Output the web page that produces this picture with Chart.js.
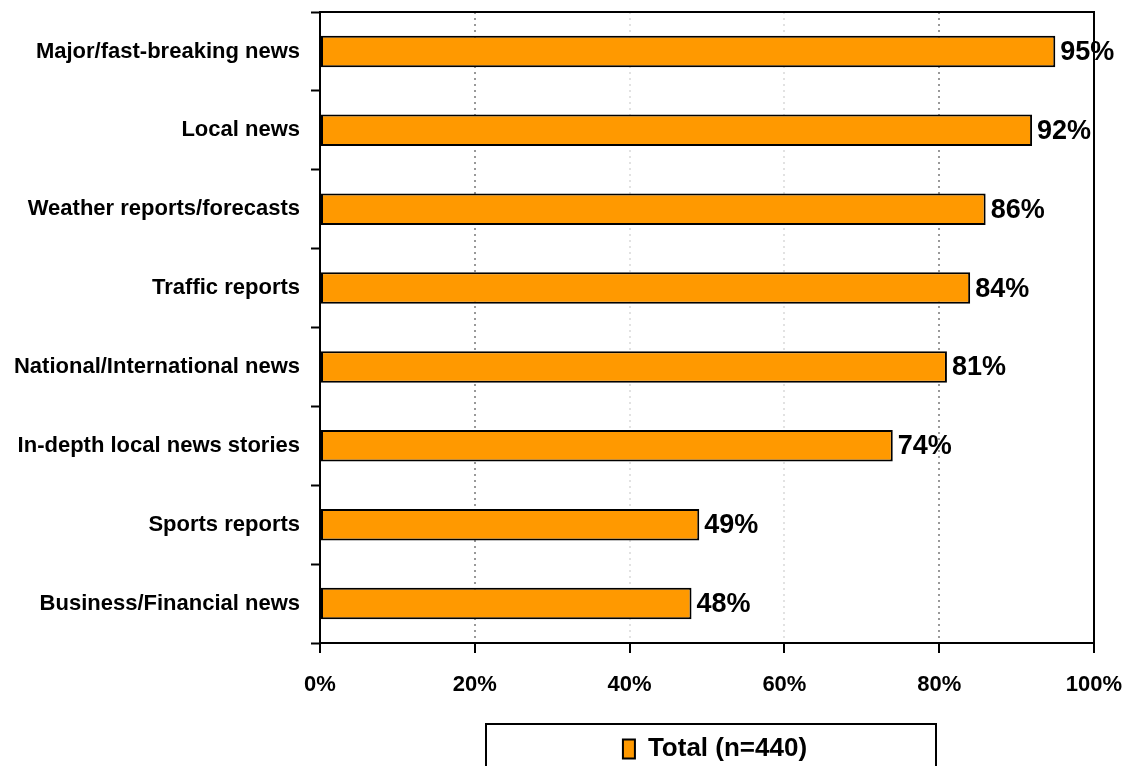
<!DOCTYPE html>
<html>
<head>
<meta charset="utf-8">
<script src="https://cdn.jsdelivr.net/npm/chart.js@4"></script>
<style>
  html, body { margin: 0; padding: 0; background: #fff; }
  #wrap { width: 1124px; height: 766px; }
</style>
</head>
<body>
<div id="wrap"><canvas id="myBarChart" width="1124" height="766"></canvas></div>
<script>
var categories = [
    'Major/fast-breaking news',
    'Local news',
    'Weather reports/forecasts',
    'Traffic reports',
    'National/International news',
    'In-depth local news stories',
    'Sports reports',
    'Business/Financial news'
];
var totalValues = [95, 92, 86, 84, 81, 74, 49, 48];
var xTicks = [0, 20, 40, 60, 80, 100];
var seriesLabel = 'Total (n=440)';

const FONT = '"Liberation Sans", Arial, sans-serif';

// value labels at bar ends, frame and legend box
const extras = {
    id: 'extras',
    afterLayout(chart) {
        // nudge legend item a little to the right, like the original
        chart.legend.left += 16;
    },
    afterDatasetsDraw(chart) {
        const ctx = chart.ctx;
        const meta = chart.getDatasetMeta(0);
        ctx.save();
        ctx.font = 'bold 27px ' + FONT;
        ctx.fillStyle = '#000';
        ctx.textAlign = 'left';
        ctx.textBaseline = 'middle';
        meta.data.forEach(function (bar, i) {
            ctx.fillText(chart.data.datasets[0].data[i] + '%', bar.x + 5, bar.y + 1);
        });
        ctx.restore();
    },
    afterDraw(chart) {
        const ctx = chart.ctx;
        const a = chart.chartArea;
        ctx.save();
        ctx.strokeStyle = '#000';
        ctx.lineWidth = 2;
        ctx.setLineDash([]);
        ctx.beginPath();
        ctx.moveTo(a.left, a.bottom);
        ctx.lineTo(a.left, a.top);
        ctx.lineTo(a.right, a.top);
        ctx.lineTo(a.right, a.bottom);
        ctx.lineTo(a.left, a.bottom);
        ctx.stroke();
        const lg = chart.legend;
        const cx = (a.left + a.right) / 2 + 4;
        ctx.strokeRect(cx - 225, lg.top - 2, 450, 80);
        ctx.restore();
    }
};

new Chart(document.getElementById('myBarChart'), {
    type: 'bar',
    data: {
        labels: categories,
        datasets: [{
            label: seriesLabel,
            data: totalValues,
            backgroundColor: '#FF9900',
            borderColor: '#000',
            borderWidth: 2,
            borderSkipped: false,
            categoryPercentage: 1,
            barPercentage: 0.4
        }]
    },
    options: {
        indexAxis: 'y',
        responsive: false,
        animation: false,
        layout: { padding: { top: 12, right: 30, left: 0, bottom: -6 } },
        scales: {
            x: {
                min: 0,
                max: 100,
                afterBuildTicks(scale) {
                    scale.ticks = xTicks.map(function (v) { return { value: v }; });
                },
                afterFit(scale) {
                    scale.height = 83;
                    scale.paddingRight = 0;
                },
                border: { display: true, color: '#000', width: 2, dash: [2, 4] },
                grid: {
                    drawOnChartArea: true,
                    tickLength: 10,
                    tickColor: '#000',
                    tickWidth: 2,
                    tickBorderDash: [],
                    color: function (c) {
                        const v = c.tick ? c.tick.value : 0;
                        if (v === 20 || v === 80 || v === 100) return '#999';
                        if (v === 40 || v === 60) return '#e2e2e2';
                        return 'rgba(0,0,0,0)';
                    },
                    lineWidth: 2
                },
                ticks: {
                    padding: 19,
                    color: '#000',
                    font: { family: FONT, size: 22, weight: 'bold' },
                    callback: function (v) { return v + '%'; }
                }
            },
            y: {
                afterFit(scale) {
                    scale.width = 320;
                    scale.paddingTop = 0;
                    scale.paddingBottom = 0;
                },
                border: { display: true, color: '#000', width: 2 },
                grid: {
                    drawOnChartArea: false,
                    offset: true,
                    tickLength: 9,
                    tickColor: '#000',
                    tickWidth: 2
                },
                ticks: {
                    padding: 11,
                    color: '#000',
                    font: { family: FONT, size: 22, weight: 'bold' }
                }
            }
        },
        plugins: {
            legend: {
                position: 'bottom',
                fullSize: false,
                labels: {
                    color: '#000',
                    boxWidth: 12,
                    boxHeight: 19,
                    padding: 10,
                    font: { family: FONT, size: 26, weight: 'bold' }
                }
            },
            tooltip: { enabled: false }
        }
    },
    plugins: [extras]
});
</script>
</body>
</html>
